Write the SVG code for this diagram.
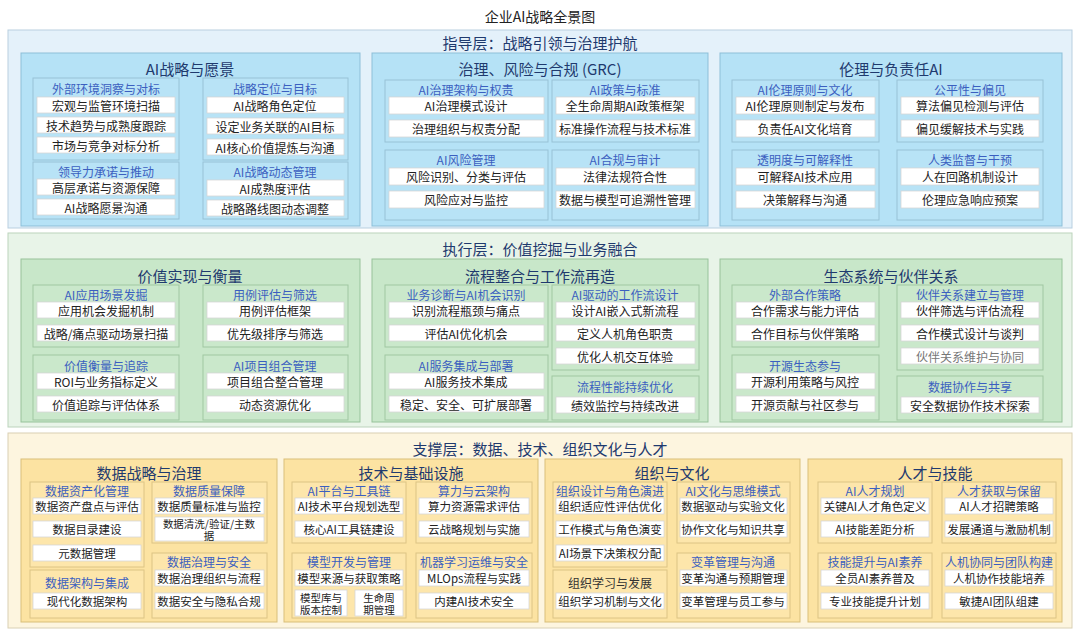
<svg xmlns="http://www.w3.org/2000/svg" width="1080" height="633" viewBox="0 0 1080 633">
<style>
text{font-family:"Noto Sans CJK SC","Liberation Sans",sans-serif;text-anchor:middle;dominant-baseline:central}
.mt{font-size:14px;fill:#222}
.lt{font-size:15px;fill:#1f3a6e}
.st{font-size:15px;fill:#1f3a6e}
.gt{font-size:12px;fill:#3b5fc0}
.gd{font-size:12px;fill:#333}
.t{font-size:12px;fill:#222}
.t3{font-size:11.5px;fill:#222}
.t2{font-size:10.5px;fill:#222}
.tg{font-size:12px;fill:#777}
.it{fill:#fff;stroke:#d6d6d6;stroke-width:0.8}
.l1{fill:#e4f1fa;stroke:#b9cfe0}
.s1{fill:#b5e2f6;stroke:#8dbfd8}
.g1{fill:#b8e3f6;stroke:#98c2d6}
.l2{fill:#e8f4e8;stroke:#bcd3bc}
.s2{fill:#c8e7c9;stroke:#97c29a}
.g2{fill:#cae8cb;stroke:#a0c7a2}
.l3{fill:#fdf5df;stroke:#d9d0b4}
.s3{fill:#fce3a2;stroke:#d9bf7a}
.g3{fill:#fde6ab;stroke:#dcc484}
</style>
<rect width="1080" height="633" fill="#fff"/>
<text class="mt" x="540" y="16">企业AI战略全景图</text>
<g id="layer1">
<rect class="l1" x="8" y="30" width="1064" height="198"/>
<text class="lt" x="540" y="42">指导层：战略引领与治理护航</text>
<g id="sec-ai-strategy">
<rect class="s1" x="21" y="53" width="339" height="173"/>
<text class="st" x="190" y="68">AI战略与愿景</text>
<rect class="g1" x="33" y="78" width="146" height="82"/><text class="gt" x="106" y="88">外部环境洞察与对标</text>
<rect class="it" x="37" y="97" width="138" height="16"/><text class="t" x="106" y="105">宏观与监管环境扫描</text>
<rect class="it" x="37" y="117" width="138" height="16"/><text class="t" x="106" y="125">技术趋势与成熟度跟踪</text>
<rect class="it" x="37" y="137" width="138" height="16"/><text class="t" x="106" y="145">市场与竞争对标分析</text>
<rect class="g1" x="33" y="162" width="146" height="57"/><text class="gt" x="106" y="171">领导力承诺与推动</text>
<rect class="it" x="37" y="179" width="138" height="16"/><text class="t" x="106" y="187">高层承诺与资源保障</text>
<rect class="it" x="37" y="199" width="138" height="16"/><text class="t" x="106" y="207">AI战略愿景沟通</text>
<rect class="g1" x="203" y="78" width="145" height="82"/><text class="gt" x="275" y="88">战略定位与目标</text>
<rect class="it" x="207" y="97" width="137" height="16"/><text class="t" x="275" y="105">AI战略角色定位</text>
<rect class="it" x="207" y="118" width="137" height="16"/><text class="t" x="275" y="126">设定业务关联的AI目标</text>
<rect class="it" x="207" y="139" width="137" height="16"/><text class="t" x="275" y="147">AI核心价值提炼与沟通</text>
<rect class="g1" x="203" y="162" width="145" height="57"/><text class="gt" x="275" y="171">AI战略动态管理</text>
<rect class="it" x="207" y="180" width="137" height="16"/><text class="t" x="275" y="188">AI成熟度评估</text>
<rect class="it" x="207" y="200" width="137" height="16"/><text class="t" x="275" y="208">战略路线图动态调整</text>
</g>
<g id="sec-grc">
<rect class="s1" x="372" y="53" width="336" height="173"/>
<text class="st" x="540" y="68">治理、风险与合规 (GRC)</text>
<rect class="g1" x="385" y="80" width="163" height="62"/><text class="gt" x="466" y="89">AI治理架构与权责</text>
<rect class="it" x="389" y="97" width="155" height="17"/><text class="t" x="466" y="105.5">AI治理模式设计</text>
<rect class="it" x="389" y="120" width="155" height="17"/><text class="t" x="466" y="128.5">治理组织与权责分配</text>
<rect class="g1" x="385" y="150" width="163" height="70"/><text class="gt" x="466" y="159">AI风险管理</text>
<rect class="it" x="389" y="168" width="155" height="17"/><text class="t" x="466" y="176.5">风险识别、分类与评估</text>
<rect class="it" x="389" y="191" width="155" height="17"/><text class="t" x="466" y="199.5">风险应对与监控</text>
<rect class="g1" x="552" y="80" width="147" height="62"/><text class="gt" x="625" y="89">AI政策与标准</text>
<rect class="it" x="556" y="97" width="139" height="17"/><text class="t" x="625" y="105.5">全生命周期AI政策框架</text>
<rect class="it" x="556" y="120" width="139" height="17"/><text class="t" x="625" y="128.5">标准操作流程与技术标准</text>
<rect class="g1" x="552" y="150" width="147" height="70"/><text class="gt" x="625" y="159">AI合规与审计</text>
<rect class="it" x="556" y="168" width="139" height="17"/><text class="t" x="625" y="176.5">法律法规符合性</text>
<rect class="it" x="556" y="191" width="139" height="17"/><text class="t" x="625" y="199.5">数据与模型可追溯性管理</text>
</g>
<g id="sec-ethics">
<rect class="s1" x="720" y="53" width="342" height="173"/>
<text class="st" x="891" y="68">伦理与负责任AI</text>
<rect class="g1" x="732" y="80" width="147" height="62"/><text class="gt" x="805" y="89">AI伦理原则与文化</text>
<rect class="it" x="736" y="97" width="139" height="17"/><text class="t" x="805" y="105.5">AI伦理原则制定与发布</text>
<rect class="it" x="736" y="120" width="139" height="17"/><text class="t" x="805" y="128.5">负责任AI文化培育</text>
<rect class="g1" x="732" y="150" width="147" height="70"/><text class="gt" x="805" y="159">透明度与可解释性</text>
<rect class="it" x="736" y="168" width="139" height="17"/><text class="t" x="805" y="176.5">可解释AI技术应用</text>
<rect class="it" x="736" y="191" width="139" height="17"/><text class="t" x="805" y="199.5">决策解释与沟通</text>
<rect class="g1" x="897" y="80" width="146" height="62"/><text class="gt" x="970" y="89">公平性与偏见</text>
<rect class="it" x="901" y="97" width="138" height="17"/><text class="t" x="970" y="105.5">算法偏见检测与评估</text>
<rect class="it" x="901" y="120" width="138" height="17"/><text class="t" x="970" y="128.5">偏见缓解技术与实践</text>
<rect class="g1" x="897" y="150" width="146" height="70"/><text class="gt" x="970" y="159">人类监督与干预</text>
<rect class="it" x="901" y="168" width="138" height="17"/><text class="t" x="970" y="176.5">人在回路机制设计</text>
<rect class="it" x="901" y="191" width="138" height="17"/><text class="t" x="970" y="199.5">伦理应急响应预案</text>
</g>
</g>
<g id="layer2">
<rect class="l2" x="8" y="233" width="1064" height="194"/>
<text class="lt" x="540" y="248">执行层：价值挖掘与业务融合</text>
<g id="sec-value">
<rect class="s2" x="21" y="259" width="339" height="163"/>
<text class="st" x="190" y="275">价值实现与衡量</text>
<rect class="g2" x="33" y="285" width="146" height="62"/><text class="gt" x="106" y="294">AI应用场景发掘</text>
<rect class="it" x="37" y="302" width="138" height="16"/><text class="t" x="106" y="310">应用机会发掘机制</text>
<rect class="it" x="37" y="325" width="138" height="16"/><text class="t" x="106" y="333">战略/痛点驱动场景扫描</text>
<rect class="g2" x="33" y="355" width="146" height="65"/><text class="gt" x="106" y="365">价值衡量与追踪</text>
<rect class="it" x="37" y="373" width="138" height="16"/><text class="t" x="106" y="381">ROI与业务指标定义</text>
<rect class="it" x="37" y="396" width="138" height="16"/><text class="t" x="106" y="404">价值追踪与评估体系</text>
<rect class="g2" x="203" y="285" width="145" height="62"/><text class="gt" x="275" y="294">用例评估与筛选</text>
<rect class="it" x="207" y="302" width="137" height="16"/><text class="t" x="275" y="310">用例评估框架</text>
<rect class="it" x="207" y="325" width="137" height="16"/><text class="t" x="275" y="333">优先级排序与筛选</text>
<rect class="g2" x="203" y="355" width="145" height="65"/><text class="gt" x="275" y="365">AI项目组合管理</text>
<rect class="it" x="207" y="373" width="137" height="16"/><text class="t" x="275" y="381">项目组合整合管理</text>
<rect class="it" x="207" y="396" width="137" height="16"/><text class="t" x="275" y="404">动态资源优化</text>
</g>
<g id="sec-process">
<rect class="s2" x="372" y="259" width="336" height="163"/>
<text class="st" x="540" y="275">流程整合与工作流再造</text>
<rect class="g2" x="385" y="285" width="163" height="62"/><text class="gt" x="466" y="294">业务诊断与AI机会识别</text>
<rect class="it" x="389" y="302" width="155" height="16"/><text class="t" x="466" y="310">识别流程瓶颈与痛点</text>
<rect class="it" x="389" y="325" width="155" height="16"/><text class="t" x="466" y="333">评估AI优化机会</text>
<rect class="g2" x="385" y="355" width="163" height="65"/><text class="gt" x="466" y="365">AI服务集成与部署</text>
<rect class="it" x="389" y="373" width="155" height="16"/><text class="t" x="466" y="381">AI服务技术集成</text>
<rect class="it" x="389" y="396" width="155" height="16"/><text class="t" x="466" y="404">稳定、安全、可扩展部署</text>
<rect class="g2" x="552" y="285" width="147" height="85"/><text class="gt" x="625" y="294">AI驱动的工作流设计</text>
<rect class="it" x="556" y="302" width="139" height="16"/><text class="t" x="625" y="310">设计AI嵌入式新流程</text>
<rect class="it" x="556" y="325" width="139" height="16"/><text class="t" x="625" y="333">定义人机角色职责</text>
<rect class="it" x="556" y="348" width="139" height="16"/><text class="t" x="625" y="356">优化人机交互体验</text>
<rect class="g2" x="552" y="376" width="147" height="44"/><text class="gt" x="625" y="386">流程性能持续优化</text>
<rect class="it" x="556" y="397" width="139" height="16"/><text class="t" x="625" y="405">绩效监控与持续改进</text>
</g>
<g id="sec-eco">
<rect class="s2" x="720" y="259" width="342" height="163"/>
<text class="st" x="891" y="275">生态系统与伙伴关系</text>
<rect class="g2" x="732" y="285" width="147" height="62"/><text class="gt" x="805" y="294">外部合作策略</text>
<rect class="it" x="736" y="302" width="139" height="16"/><text class="t" x="805" y="310">合作需求与能力评估</text>
<rect class="it" x="736" y="325" width="139" height="16"/><text class="t" x="805" y="333">合作目标与伙伴策略</text>
<rect class="g2" x="732" y="355" width="147" height="65"/><text class="gt" x="805" y="365">开源生态参与</text>
<rect class="it" x="736" y="373" width="139" height="16"/><text class="t" x="805" y="381">开源利用策略与风控</text>
<rect class="it" x="736" y="396" width="139" height="16"/><text class="t" x="805" y="404">开源贡献与社区参与</text>
<rect class="g2" x="897" y="285" width="146" height="85"/><text class="gt" x="970" y="294">伙伴关系建立与管理</text>
<rect class="it" x="901" y="302" width="138" height="16"/><text class="t" x="970" y="310">伙伴筛选与评估流程</text>
<rect class="it" x="901" y="325" width="138" height="16"/><text class="t" x="970" y="333">合作模式设计与谈判</text>
<rect class="it" x="901" y="348" width="138" height="16"/><text class="tg" x="970" y="356">伙伴关系维护与协同</text>
<rect class="g2" x="897" y="376" width="146" height="44"/><text class="gt" x="970" y="386">数据协作与共享</text>
<rect class="it" x="901" y="397" width="138" height="16"/><text class="t" x="970" y="405">安全数据协作技术探索</text>
</g>
</g>
<g id="layer3">
<rect class="l3" x="8" y="433" width="1064" height="195"/>
<text class="lt" x="540" y="448">支撑层：数据、技术、组织文化与人才</text>
<g id="sec-data">
<rect class="s3" x="21" y="459" width="256" height="163"/>
<text class="st" x="149" y="472">数据战略与治理</text>
<rect class="g3" x="30" y="482" width="114" height="85"/><text class="gt" x="87" y="490">数据资产化管理</text>
<rect class="it" x="33" y="498" width="108" height="16"/><text class="t3" x="87" y="506">数据资产盘点与评估</text>
<rect class="it" x="33" y="521" width="108" height="16"/><text class="t3" x="87" y="529">数据目录建设</text>
<rect class="it" x="33" y="545" width="108" height="16"/><text class="t3" x="87" y="553">元数据管理</text>
<rect class="g3" x="30" y="570" width="114" height="48"/><text class="gt" x="87" y="582">数据架构与集成</text>
<rect class="it" x="33" y="593" width="108" height="16"/><text class="t3" x="87" y="601">现代化数据架构</text>
<rect class="g3" x="152" y="482" width="115" height="61"/><text class="gt" x="209" y="490">数据质量保障</text>
<rect class="it" x="155" y="498" width="109" height="16"/><text class="t3" x="209" y="506">数据质量标准与监控</text>
<rect class="it" x="155" y="517" width="109" height="24"/><text class="t2" x="209" y="523">数据清洗/验证/主数<tspan x="209" dy="11.5">据</tspan></text>
<rect class="g3" x="152" y="553" width="115" height="65"/><text class="gt" x="209" y="561">数据治理与安全</text>
<rect class="it" x="155" y="570" width="109" height="16"/><text class="t3" x="209" y="578">数据治理组织与流程</text>
<rect class="it" x="155" y="593" width="109" height="16"/><text class="t3" x="209" y="601">数据安全与隐私合规</text>
</g>
<g id="sec-tech">
<rect class="s3" x="284" y="459" width="254" height="163"/>
<text class="st" x="411" y="472">技术与基础设施</text>
<rect class="g3" x="292" y="482" width="114" height="61"/><text class="gt" x="349" y="490">AI平台与工具链</text>
<rect class="it" x="295" y="498" width="108" height="16"/><text class="t3" x="349" y="506">AI技术平台规划选型</text>
<rect class="it" x="295" y="521" width="108" height="16"/><text class="t3" x="349" y="529">核心AI工具链建设</text>
<rect class="g3" x="292" y="553" width="114" height="65"/><text class="gt" x="349" y="561">模型开发与管理</text>
<rect class="it" x="295" y="570" width="108" height="16"/><text class="t3" x="349" y="578">模型来源与获取策略</text>
<rect class="it" x="295" y="590" width="52" height="26"/><text class="t2" x="321" y="597">模型库与<tspan x="321" dy="12">版本控制</tspan></text>
<rect class="it" x="355" y="590" width="48" height="26"/><text class="t2" x="379" y="597">生命周<tspan x="379" dy="12">期管理</tspan></text>
<rect class="g3" x="416" y="482" width="116" height="61"/><text class="gt" x="474" y="490">算力与云架构</text>
<rect class="it" x="419" y="498" width="110" height="16"/><text class="t3" x="474" y="506">算力资源需求评估</text>
<rect class="it" x="419" y="521" width="110" height="16"/><text class="t3" x="474" y="529">云战略规划与实施</text>
<rect class="g3" x="416" y="553" width="116" height="65"/><text class="gt" x="474" y="561">机器学习运维与安全</text>
<rect class="it" x="419" y="570" width="110" height="16"/><text class="t3" x="474" y="578">MLOps流程与实践</text>
<rect class="it" x="419" y="593" width="110" height="16"/><text class="t3" x="474" y="601">内建AI技术安全</text>
</g>
<g id="sec-org">
<rect class="s3" x="545" y="459" width="255" height="163"/>
<text class="st" x="672" y="472">组织与文化</text>
<rect class="g3" x="553" y="482" width="114" height="85"/><text class="gt" x="610" y="490">组织设计与角色演进</text>
<rect class="it" x="556" y="498" width="108" height="16"/><text class="t3" x="610" y="506">组织适应性评估优化</text>
<rect class="it" x="556" y="521" width="108" height="16"/><text class="t3" x="610" y="529">工作模式与角色演变</text>
<rect class="it" x="556" y="545" width="108" height="16"/><text class="t3" x="610" y="553">AI场景下决策权分配</text>
<rect class="g3" x="553" y="570" width="114" height="48"/><text class="gd" x="610" y="582">组织学习与发展</text>
<rect class="it" x="556" y="593" width="108" height="16"/><text class="t3" x="610" y="601">组织学习机制与文化</text>
<rect class="g3" x="677" y="482" width="113" height="61"/><text class="gt" x="733" y="490">AI文化与思维模式</text>
<rect class="it" x="680" y="498" width="107" height="16"/><text class="t3" x="733" y="506">数据驱动与实验文化</text>
<rect class="it" x="680" y="521" width="107" height="16"/><text class="t3" x="733" y="529">协作文化与知识共享</text>
<rect class="g3" x="677" y="553" width="113" height="65"/><text class="gt" x="733" y="561">变革管理与沟通</text>
<rect class="it" x="680" y="570" width="107" height="16"/><text class="t3" x="733" y="578">变革沟通与预期管理</text>
<rect class="it" x="680" y="593" width="107" height="16"/><text class="t3" x="733" y="601">变革管理与员工参与</text>
</g>
<g id="sec-talent">
<rect class="s3" x="808" y="459" width="254" height="163"/>
<text class="st" x="935" y="472">人才与技能</text>
<rect class="g3" x="818" y="482" width="114" height="61"/><text class="gt" x="875" y="490">AI人才规划</text>
<rect class="it" x="821" y="498" width="108" height="16"/><text class="t3" x="875" y="506">关键AI人才角色定义</text>
<rect class="it" x="821" y="521" width="108" height="16"/><text class="t3" x="875" y="529">AI技能差距分析</text>
<rect class="g3" x="818" y="553" width="114" height="65"/><text class="gt" x="875" y="561">技能提升与AI素养</text>
<rect class="it" x="821" y="570" width="108" height="16"/><text class="t3" x="875" y="578">全员AI素养普及</text>
<rect class="it" x="821" y="593" width="108" height="16"/><text class="t3" x="875" y="601">专业技能提升计划</text>
<rect class="g3" x="942" y="482" width="114" height="61"/><text class="gt" x="999" y="490">人才获取与保留</text>
<rect class="it" x="945" y="498" width="108" height="16"/><text class="t3" x="999" y="506">AI人才招聘策略</text>
<rect class="it" x="945" y="521" width="108" height="16"/><text class="t3" x="999" y="529">发展通道与激励机制</text>
<rect class="g3" x="942" y="553" width="114" height="65"/><text class="gt" x="999" y="561">人机协同与团队构建</text>
<rect class="it" x="945" y="570" width="108" height="16"/><text class="t3" x="999" y="578">人机协作技能培养</text>
<rect class="it" x="945" y="593" width="108" height="16"/><text class="t3" x="999" y="601">敏捷AI团队组建</text>
</g>
</g>
<g id="connectors"/>
</svg>
